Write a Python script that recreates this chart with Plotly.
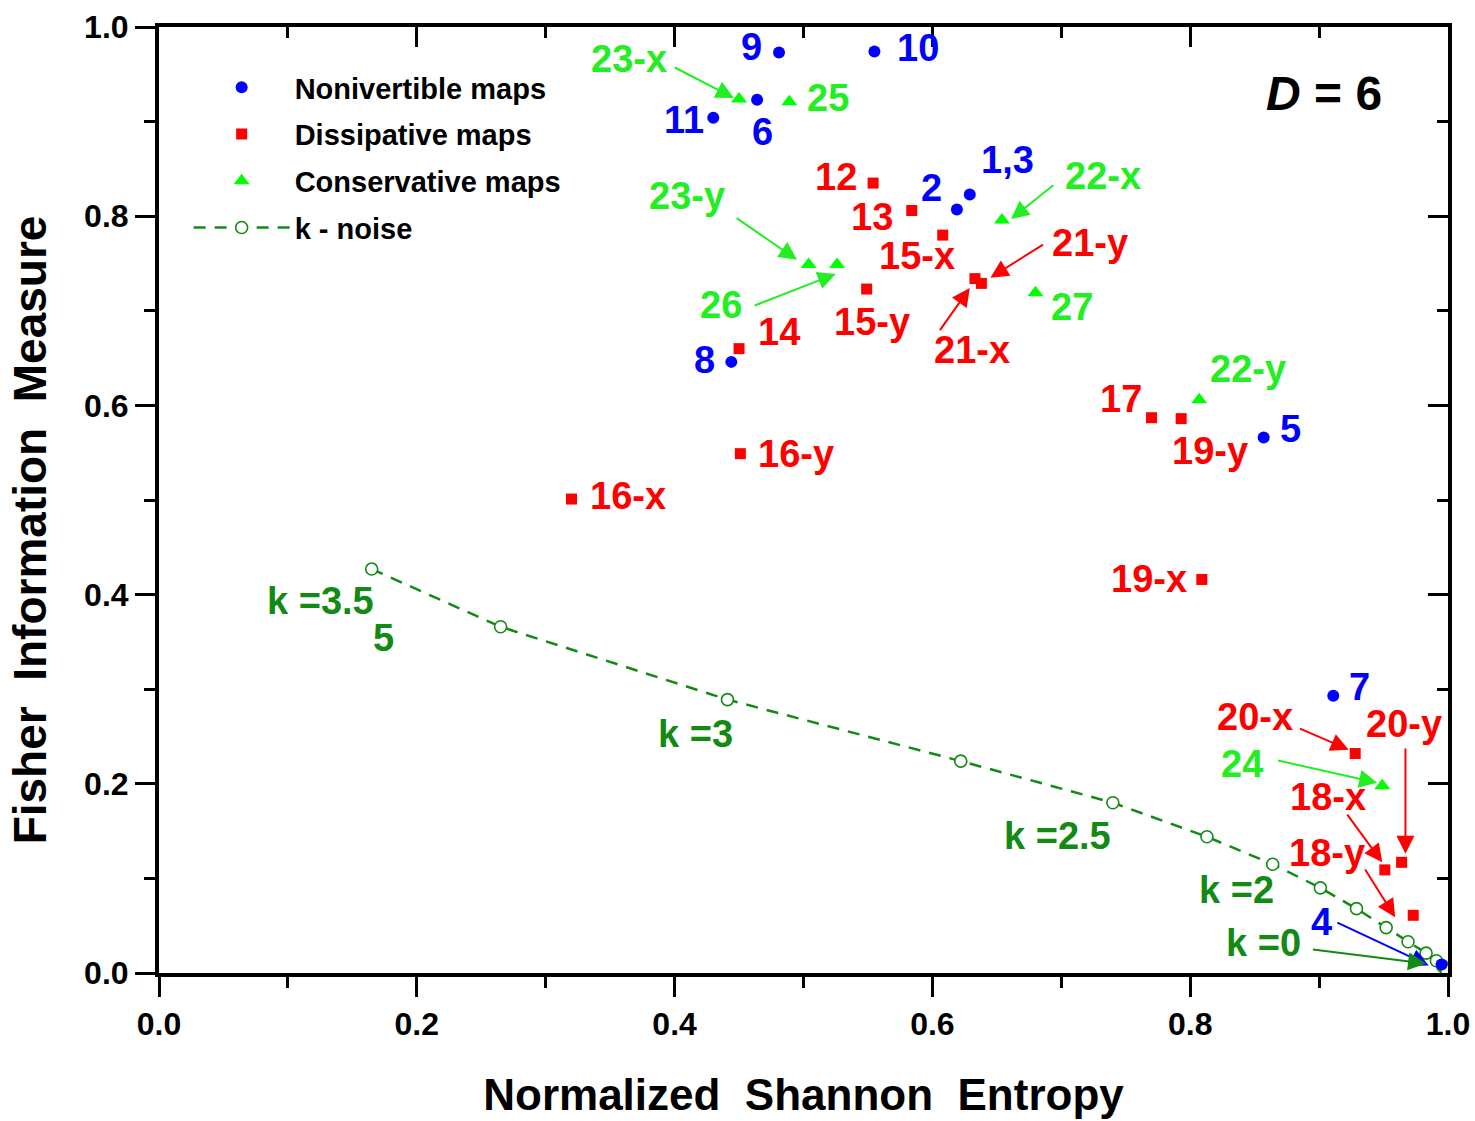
import plotly.graph_objects as go

# ---- data -------------------------------------------------------------
noninv_names = ["1,3", "2", "4", "5", "6", "7", "8", "9", "10", "11"]
noninv_h = [0.629, 0.619, 0.995, 0.857, 0.464, 0.911, 0.444, 0.481, 0.555, 0.430]
noninv_c = [0.823, 0.807, 0.009, 0.566, 0.923, 0.293, 0.646, 0.973, 0.974, 0.904]

diss_names = ["12", "13", "14", "15-x", "15-y", "16-x", "16-y", "17", "18-x", "18-y",
              "19-x", "19-y", "20-x", "20-y", "21-x", "21-y"]
diss_h = [0.554, 0.584, 0.450, 0.608, 0.549, 0.320, 0.451, 0.770, 0.951, 0.973,
          0.809, 0.793, 0.928, 0.964, 0.633, 0.638]
diss_c = [0.835, 0.806, 0.660, 0.780, 0.723, 0.501, 0.549, 0.587, 0.109, 0.061,
          0.416, 0.586, 0.232, 0.117, 0.734, 0.729]

cons_names = ["22-x", "22-y", "23-x", "23-y", "24", "25", "26", "27"]
cons_h = [0.654, 0.807, 0.450, 0.504, 0.949, 0.489, 0.526, 0.680]
cons_c = [0.796, 0.606, 0.924, 0.749, 0.198, 0.921, 0.749, 0.719]

noise_k = [3.5, 3.25, 3.0, 2.75, 2.5, 2.25, 2.0, 1.75, 1.5, 1.25, 1.0, 0.75, 0.5, 0.25, 0.0]
noise_h = [0.165, 0.265, 0.441, 0.622, 0.740, 0.813, 0.864, 0.901, 0.929, 0.952,
           0.969, 0.983, 0.991, 0.996, 0.999]
noise_c = [0.427, 0.366, 0.289, 0.224, 0.180, 0.144, 0.115, 0.090, 0.068, 0.048,
           0.033, 0.021, 0.013, 0.007, 0.002]

# ---- label placement (text, x, y, colour) ----------------------------
BLUE, RED, GREEN, DKGREEN = "#0000FF", "#FF0000", "#22EE22", "#138A13"
labels = [
    ("9", 0.460, 0.979, BLUE), ("10", 0.589, 0.978, BLUE), ("11", 0.407, 0.902, BLUE),
    ("6", 0.468, 0.889, BLUE), ("2", 0.599, 0.830, BLUE), ("1,3", 0.658, 0.859, BLUE),
    ("8", 0.423, 0.648, BLUE), ("5", 0.878, 0.575, BLUE), ("7", 0.931, 0.302, BLUE),
    ("4", 0.902, 0.054, BLUE),
    ("12", 0.525, 0.841, RED), ("13", 0.553, 0.799, RED), ("15-x", 0.588, 0.758, RED),
    ("21-y", 0.722, 0.772, RED), ("15-y", 0.553, 0.688, RED), ("21-x", 0.631, 0.659, RED),
    ("14", 0.481, 0.678, RED), ("16-y", 0.494, 0.549, RED), ("16-x", 0.364, 0.504, RED),
    ("17", 0.746, 0.607, RED), ("19-y", 0.815, 0.552, RED), ("19-x", 0.768, 0.417, RED),
    ("20-x", 0.850, 0.271, RED), ("20-y", 0.966, 0.263, RED), ("18-x", 0.907, 0.186, RED),
    ("18-y", 0.906, 0.127, RED),
    ("23-x", 0.365, 0.966, GREEN), ("25", 0.519, 0.925, GREEN), ("22-x", 0.732, 0.843, GREEN),
    ("23-y", 0.410, 0.821, GREEN), ("26", 0.436, 0.706, GREEN), ("27", 0.708, 0.704, GREEN),
    ("22-y", 0.845, 0.638, GREEN), ("24", 0.840, 0.221, GREEN),
    ("k =3.5", 0.125, 0.393, DKGREEN), ("5", 0.174, 0.354, DKGREEN), ("k =3", 0.416, 0.253, DKGREEN),
    ("k =2.5", 0.697, 0.145, DKGREEN), ("k =2", 0.836, 0.088, DKGREEN), ("k =0", 0.857, 0.032, DKGREEN),
]

# arrows: (tail x, tail y, head x, head y, colour)
arrows = [
    (0.399, 0.958, 0.446, 0.925, GREEN),   # 23-x
    (0.695, 0.834, 0.661, 0.797, GREEN),   # 22-x
    (0.687, 0.771, 0.645, 0.735, RED),     # 21-y
    (0.605, 0.678, 0.629, 0.724, RED),     # 21-x
    (0.447, 0.799, 0.495, 0.754, GREEN),   # 23-y
    (0.461, 0.705, 0.525, 0.739, GREEN),   # 26
    (0.884, 0.259, 0.923, 0.236, RED),     # 20-x
    (0.867, 0.225, 0.945, 0.201, GREEN),   # 24
    (0.967, 0.239, 0.967, 0.126, RED),     # 20-y
    (0.921, 0.169, 0.949, 0.117, RED),     # 18-x
    (0.935, 0.111, 0.959, 0.059, RED),     # 18-y
    (0.913, 0.054, 0.985, 0.008, BLUE),    # 4
    (0.894, 0.025, 0.983, 0.010, DKGREEN), # k = 0
]

FONT = "Arial, Liberation Sans, sans-serif"

fig = go.Figure()

fig.add_trace(go.Scatter(
    x=noise_h, y=noise_c, mode="lines+markers", name="k - noise",
    line=dict(color="#138A13", width=2.5, dash="12px,9px"),
    marker=dict(symbol="circle", size=12, color="white", line=dict(width=1.6, color="#138A13")),
    legendrank=4, legendgroup="n", customdata=noise_k,
))
fig.add_trace(go.Scatter(
    x=noninv_h, y=noninv_c, mode="markers", name="Nonivertible maps", text=noninv_names,
    marker=dict(symbol="circle", size=12, color="#0000FF"), legendrank=1, legendgroup="a",
))
fig.add_trace(go.Scatter(
    x=diss_h, y=diss_c, mode="markers", name="Dissipative maps", text=diss_names,
    marker=dict(symbol="square", size=11, color="#FF0000"), legendrank=2, legendgroup="b",
))
fig.add_trace(go.Scatter(
    x=cons_h, y=cons_c, mode="markers", name="Conservative maps", text=cons_names,
    marker=dict(symbol="triangle-up", size=14, color="#00FF00"), legendrank=3, legendgroup="c",
))
# invisible carrier so the top and right frame axes are drawn
fig.add_trace(go.Scatter(
    x=[0.5], y=[0.5], xaxis="x2", yaxis="y2", mode="markers",
    marker=dict(opacity=0), showlegend=False, hoverinfo="skip",
))

annotations = []
for t, x, y, c in labels:
    annotations.append(dict(x=x, y=y, xref="x", yref="y", text=t, showarrow=False,
                            font=dict(family=FONT, size=38, color=c, weight="bold"),
                            xanchor="center", yanchor="middle"))
for x0, y0, x1, y1, c in arrows:
    annotations.append(dict(x=x1, y=y1, ax=x0, ay=y0, xref="x", yref="y", axref="x", ayref="y",
                            text="", showarrow=True, arrowhead=2, arrowsize=1.8,
                            arrowwidth=2, arrowcolor=c, standoff=0))
annotations.append(dict(x=0.904, y=0.930, xref="x", yref="y", text="<i>D</i> = 6", showarrow=False,
                        font=dict(family=FONT, size=48, color="black", weight="bold"),
                        xanchor="center", yanchor="middle"))
# vertical axis title, set slightly below the middle of the frame
annotations.append(dict(x=-0.100, y=0.468, xref="paper", yref="paper",
                        text="Fisher\u00a0\u00a0Information\u00a0\u00a0Measure", textangle=-90,
                        showarrow=False, xanchor="center", yanchor="middle",
                        font=dict(family=FONT, size=46, color="black", weight="bold")))

tickfont = dict(family=FONT, size=32, color="black", weight="bold")
axis_common = dict(range=[0, 1], showgrid=False, zeroline=False, showline=True, automargin=False,
                   linecolor="black", linewidth=4, tickwidth=3, tickcolor="black")

fig.update_layout(
    width=1475, height=1121,
    margin=dict(l=159, r=27, t=27, b=148, autoexpand=False),
    paper_bgcolor="white", plot_bgcolor="white",
    showlegend=True,
    legend=dict(x=0.023, y=0.963, xanchor="left", yanchor="top",
                font=dict(family=FONT, size=29, color="black", weight="bold"),
                bgcolor="rgba(0,0,0,0)", tracegroupgap=6, itemwidth=96),
    xaxis=dict(**axis_common, tick0=0, dtick=0.2, ticks="outside", ticklen=20,
               tickformat=".1f", tickfont=tickfont,
               minor=dict(dtick=0.1, ticks="outside", ticklen=11, tickwidth=3, tickcolor="black"),
               title=dict(text="Normalized\u00a0\u00a0Shannon\u00a0\u00a0Entropy", standoff=39,
                          font=dict(family=FONT, size=44, color="black", weight="bold"))),
    yaxis=dict(**axis_common, tick0=0, dtick=0.2, ticks="outside", ticklen=20,
               tickformat=".1f", tickfont=tickfont,
               minor=dict(dtick=0.1, ticks="outside", ticklen=11, tickwidth=3, tickcolor="black")),
    xaxis2=dict(**axis_common, overlaying="x", side="top", tick0=0, dtick=0.2, ticks="inside",
                ticklen=20, showticklabels=False,
                minor=dict(dtick=0.1, ticks="inside", ticklen=11, tickwidth=3, tickcolor="black")),
    yaxis2=dict(**axis_common, overlaying="y", side="right", tick0=0, dtick=0.2, ticks="inside",
                ticklen=20, showticklabels=False,
                minor=dict(dtick=0.1, ticks="inside", ticklen=11, tickwidth=3, tickcolor="black")),
    annotations=annotations,
)

fig.write_html("out.html")
